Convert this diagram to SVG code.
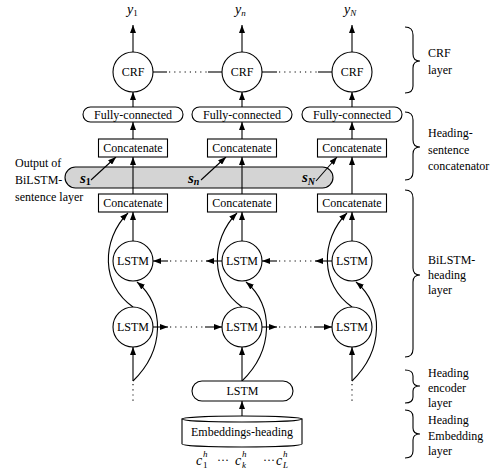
<svg xmlns="http://www.w3.org/2000/svg" width="499" height="472" viewBox="0 0 499 472" font-family="'Liberation Serif', 'DejaVu Serif', serif">
<defs>
<marker id="ah" markerWidth="8" markerHeight="6" refX="8" refY="3" orient="auto" markerUnits="userSpaceOnUse">
<path d="M0,0 L8,3 L0,6 z" fill="#000"/>
</marker>
<style>
text{font-family:'Liberation Serif','DejaVu Serif',serif;fill:#000;}
.t{font-size:12px;text-anchor:middle;}
.l{font-size:12px;}
.m{font-style:italic;font-size:14px;}
.s{font-style:italic;font-weight:bold;font-size:15px;}
.node{fill:#fff;stroke:#000;stroke-width:1.1;}
.ln{fill:none;stroke:#000;stroke-width:1.1;}
.arr{fill:none;stroke:#000;stroke-width:1.1;marker-end:url(#ah);}
.dot{fill:none;stroke:#000;stroke-width:1.1;stroke-dasharray:1.2 4;}
.br{fill:none;stroke:#000;stroke-width:1.1;}
</style>
</defs>
<rect width="499" height="472" fill="#fff"/>

<g id="sentence-bar">
<rect x="65" y="167" width="268" height="21" rx="10.5" fill="#d4d4d4" stroke="#000" stroke-width="1.1"/>
<text class="s" x="80" y="183">s<tspan font-size="10" dy="2" font-style="normal">1</tspan></text>
<text class="s" x="188" y="183">s<tspan font-size="10" dy="2">n</tspan></text>
<text class="s" x="302" y="182">s<tspan font-size="10" dy="3">N</tspan></text>
</g>

<g id="connectors">
<line class="arr" x1="133" y1="52" x2="133" y2="25"/>
<line class="arr" x1="242" y1="52" x2="242" y2="25"/>
<line class="arr" x1="352" y1="52" x2="352" y2="25"/>
<line class="ln" x1="153" y1="72" x2="167" y2="72"/>
<line class="dot" x1="169" y1="72" x2="207" y2="72"/>
<line class="ln" x1="208" y1="72" x2="222" y2="72"/>
<line class="ln" x1="262" y1="72" x2="277" y2="72"/>
<line class="dot" x1="279" y1="72" x2="317" y2="72"/>
<line class="ln" x1="318" y1="72" x2="332" y2="72"/>
<line class="arr" x1="133" y1="107" x2="133" y2="92"/>
<line class="arr" x1="242" y1="107" x2="242" y2="92"/>
<line class="arr" x1="352" y1="107" x2="352" y2="92"/>
<line class="arr" x1="133" y1="139" x2="133" y2="122"/>
<line class="arr" x1="242" y1="139" x2="242" y2="122"/>
<line class="arr" x1="352" y1="139" x2="352" y2="122"/>
<line class="arr" x1="133" y1="194" x2="133" y2="157"/>
<line class="arr" x1="242" y1="194" x2="242" y2="157"/>
<line class="arr" x1="352" y1="194" x2="352" y2="157"/>
<line class="arr" x1="91" y1="180" x2="116" y2="157"/>
<line class="arr" x1="201" y1="180" x2="226" y2="157"/>
<line class="arr" x1="316" y1="181" x2="337" y2="157"/>
<line class="arr" x1="133" y1="241" x2="133" y2="212"/>
<line class="arr" x1="242" y1="241" x2="242" y2="212"/>
<line class="arr" x1="352" y1="241" x2="352" y2="212"/>
<path class="arr" d="M133,307 C101,285 101,240 128,213"/>
<path class="arr" d="M242,307 C210,285 210,240 237,213"/>
<path class="arr" d="M352,307 C320,285 320,240 347,213"/>
<path class="arr" d="M133,381 C165,350 165,305 137,282"/>
<path class="arr" d="M242,381 C274,350 274,305 246,282"/>
<path class="arr" d="M352,381 C384,350 384,305 356,282"/>
<line class="arr" x1="168" y1="261" x2="153" y2="261"/>
<line class="dot" x1="170" y1="261" x2="205" y2="261"/>
<line class="arr" x1="222" y1="261" x2="206" y2="261"/>
<line class="arr" x1="277" y1="261" x2="262" y2="261"/>
<line class="dot" x1="279" y1="261" x2="314" y2="261"/>
<line class="arr" x1="332" y1="261" x2="315" y2="261"/>
<line class="arr" x1="153" y1="327" x2="168" y2="327"/>
<line class="dot" x1="170" y1="327" x2="205" y2="327"/>
<line class="arr" x1="205" y1="327" x2="222" y2="327"/>
<line class="arr" x1="262" y1="327" x2="277" y2="327"/>
<line class="dot" x1="279" y1="327" x2="314" y2="327"/>
<line class="arr" x1="314" y1="327" x2="332" y2="327"/>
<line class="arr" x1="133" y1="381" x2="133" y2="347"/>
<line class="arr" x1="242" y1="381" x2="242" y2="347"/>
<line class="arr" x1="352" y1="381" x2="352" y2="347"/>
<line class="dot" x1="133" y1="384" x2="133" y2="403"/>
<line class="dot" x1="352" y1="384" x2="352" y2="403"/>
<line class="arr" x1="242" y1="416" x2="242" y2="401"/>
</g>

<g id="crf1"><circle class="node" cx="133" cy="72" r="20"/><text class="t" x="133" y="76">CRF</text></g>
<g id="crf2"><circle class="node" cx="242" cy="72" r="20"/><text class="t" x="242" y="76">CRF</text></g>
<g id="crf3"><circle class="node" cx="352" cy="72" r="20"/><text class="t" x="352" y="76">CRF</text></g>

<g id="fc1"><rect class="node" x="83" y="107" width="100" height="15" rx="7.5"/><text class="t" x="133" y="118.5">Fully-connected</text></g>
<g id="fc2"><rect class="node" x="192" y="107" width="100" height="15" rx="7.5"/><text class="t" x="242" y="118.5">Fully-connected</text></g>
<g id="fc3"><rect class="node" x="302" y="107" width="100" height="15" rx="7.5"/><text class="t" x="352" y="118.5">Fully-connected</text></g>

<g id="cat-up1"><rect class="node" x="98.5" y="139" width="69" height="18"/><text class="t" x="133" y="152">Concatenate</text></g>
<g id="cat-up2"><rect class="node" x="207.5" y="139" width="69" height="18"/><text class="t" x="242" y="152">Concatenate</text></g>
<g id="cat-up3"><rect class="node" x="317.5" y="139" width="69" height="18"/><text class="t" x="352" y="152">Concatenate</text></g>

<g id="cat-lo1"><rect class="node" x="98.5" y="194" width="69" height="18"/><text class="t" x="133" y="207">Concatenate</text></g>
<g id="cat-lo2"><rect class="node" x="207.5" y="194" width="69" height="18"/><text class="t" x="242" y="207">Concatenate</text></g>
<g id="cat-lo3"><rect class="node" x="317.5" y="194" width="69" height="18"/><text class="t" x="352" y="207">Concatenate</text></g>

<g id="lstm-b1"><circle class="node" cx="133" cy="261" r="20"/><text class="t" x="133" y="265">LSTM</text></g>
<g id="lstm-b2"><circle class="node" cx="242" cy="261" r="20"/><text class="t" x="242" y="265">LSTM</text></g>
<g id="lstm-b3"><circle class="node" cx="352" cy="261" r="20"/><text class="t" x="352" y="265">LSTM</text></g>

<g id="lstm-f1"><circle class="node" cx="133" cy="327" r="20"/><text class="t" x="133" y="331">LSTM</text></g>
<g id="lstm-f2"><circle class="node" cx="242" cy="327" r="20"/><text class="t" x="242" y="331">LSTM</text></g>
<g id="lstm-f3"><circle class="node" cx="352" cy="327" r="20"/><text class="t" x="352" y="331">LSTM</text></g>

<g id="heading-lstm"><rect class="node" x="192" y="381" width="101" height="20" rx="10"/><text class="t" x="242.5" y="395">LSTM</text></g>

<g id="embeddings">
<path class="node" d="M182,419 L182,444 A60,3 0 0 0 302,444 L302,419 Z"/>
<ellipse class="node" cx="242" cy="419" rx="60" ry="3"/>
<text class="t" x="242" y="436">Embeddings-heading</text>
</g>

<g id="outputs">
<text class="m" x="127" y="14">y<tspan font-size="9" dy="2" font-style="normal">1</tspan></text>
<text class="m" x="235" y="14">y<tspan font-size="9" dy="2">n</tspan></text>
<text class="m" x="344" y="14">y<tspan font-size="9" dy="2">N</tspan></text>
</g>

<g id="chars">
<text class="m" x="196" y="465">c</text><text x="203" y="457" font-size="9" font-style="italic">h</text><text x="203" y="468" font-size="9">1</text>
<text class="l" x="217" y="464">···</text>
<text class="m" x="235" y="465">c</text><text x="242" y="457" font-size="9" font-style="italic">h</text><text x="242" y="468" font-size="9" font-style="italic">k</text>
<text class="l" x="263" y="464">···</text>
<text class="m" x="276" y="465">c</text><text x="283" y="457" font-size="9" font-style="italic">h</text><text x="283" y="468" font-size="9" font-style="italic">L</text>
</g>

<g id="left-label">
<text class="l" x="15" y="167">Output of</text>
<text class="l" x="15" y="184">BiLSTM-</text>
<text class="l" x="15" y="201">sentence layer</text>
</g>

<g id="brace-crf">
<path class="br" d="M405,27 Q413,27 413,35 L413,54 Q413,61 420,61 Q413,61 413,68 L413,86 Q413,93 405,93"/>
<text class="l" x="428" y="57">CRF</text><text class="l" x="428" y="74">layer</text>
</g>
<g id="brace-concat">
<path class="br" d="M405,112 Q413,112 413,120 L413,140 Q413,147 420,147 Q413,147 413,154 L413,172 Q413,180 405,180"/>
<text class="l" x="428" y="137">Heading-</text><text class="l" x="428" y="154">sentence</text><text class="l" x="428" y="170">concatenator</text>
</g>
<g id="brace-bilstm">
<path class="br" d="M405,190 Q413,190 413,198 L413,268 Q413,275 420,275 Q413,275 413,282 L413,349 Q413,357 405,357"/>
<text class="l" x="428" y="264">BiLSTM-</text><text class="l" x="428" y="279">heading</text><text class="l" x="428" y="294">layer</text>
</g>
<g id="brace-encoder">
<path class="br" d="M405,370 Q413,370 413,376 L413,381 Q413,386 420,386 Q413,386 413,391 L413,397 Q413,403 405,403"/>
<text class="l" x="428" y="377">Heading</text><text class="l" x="428" y="392">encoder</text><text class="l" x="428" y="407">layer</text>
</g>
<g id="brace-embedding">
<path class="br" d="M405,410 Q413,410 413,417 L413,428 Q413,434 420,434 Q413,434 413,440 L413,451 Q413,458 405,458"/>
<text class="l" x="428" y="424">Heading</text><text class="l" x="428" y="440">Embedding</text><text class="l" x="428" y="455">layer</text>
</g>
</svg>
